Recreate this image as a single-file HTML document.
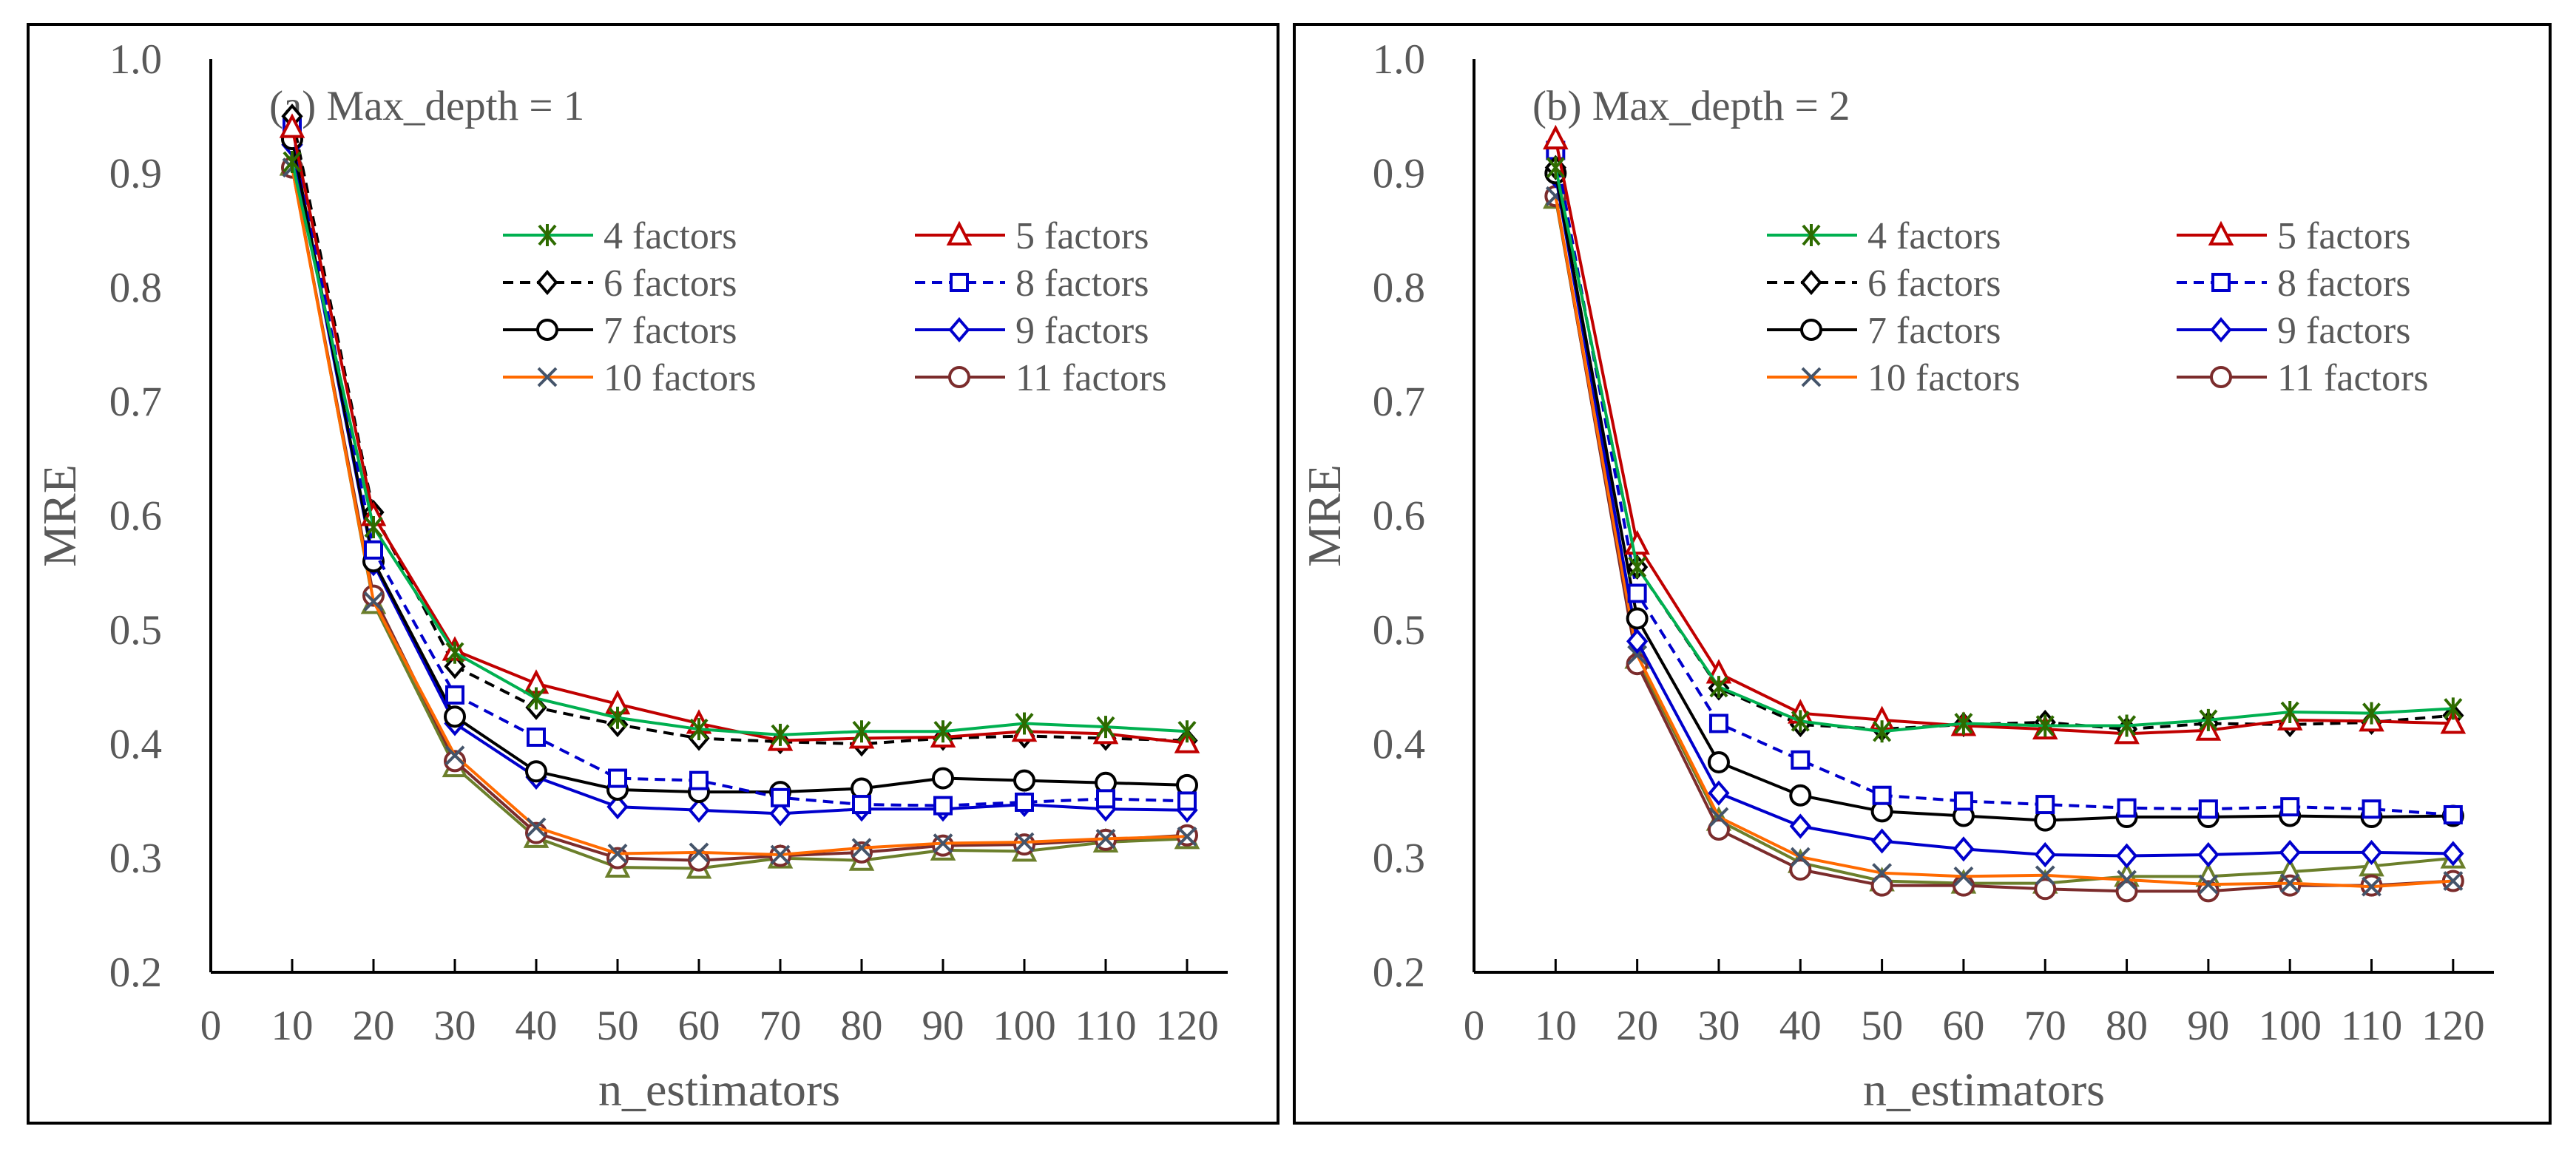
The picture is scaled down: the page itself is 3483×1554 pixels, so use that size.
<!DOCTYPE html>
<html><head><meta charset="utf-8"><style>
html,body{margin:0;padding:0;background:#fff}
svg{display:block;font-family:"Liberation Serif",serif}
</style></head><body>
<svg id="chart" width="3483" height="1554" viewBox="0 0 3483 1554" xmlns="http://www.w3.org/2000/svg"></svg>
<script>
const xValues=[10,20,30,40,50,60,70,80,90,100,110,120];
const xTicks=[0,10,20,30,40,50,60,70,80,90,100,110,120];
const yTicks=[0.2,0.3,0.4,0.5,0.6,0.7,0.8,0.9,1.0];
const seriesNames=["4 factors","5 factors","6 factors","8 factors","7 factors","9 factors","10 factors","11 factors",""];
const a4=[0.91,0.59,0.48,0.44,0.423,0.413,0.408,0.411,0.411,0.418,0.415,0.411];
const a5=[0.94,0.60,0.482,0.453,0.435,0.418,0.403,0.405,0.406,0.411,0.409,0.401];
const a6=[0.95,0.603,0.468,0.432,0.417,0.405,0.402,0.400,0.405,0.407,0.405,0.403];
const a8=[0.94,0.57,0.443,0.406,0.37,0.368,0.353,0.347,0.346,0.349,0.352,0.350];
const a7=[0.93,0.56,0.424,0.376,0.36,0.358,0.358,0.361,0.37,0.368,0.366,0.364];
const a9=[0.925,0.558,0.418,0.371,0.345,0.342,0.339,0.343,0.343,0.347,0.343,0.342];
const a10=[0.905,0.525,0.39,0.327,0.304,0.305,0.303,0.309,0.313,0.314,0.317,0.319];
const a11=[0.905,0.53,0.385,0.322,0.30,0.298,0.302,0.305,0.311,0.312,0.316,0.320];
const a12=[0.907,0.523,0.38,0.318,0.292,0.291,0.300,0.298,0.307,0.306,0.314,0.317];
const b4=[0.905,0.555,0.45,0.42,0.411,0.418,0.416,0.416,0.421,0.428,0.427,0.431];
const b5=[0.93,0.575,0.462,0.427,0.421,0.416,0.413,0.409,0.412,0.421,0.420,0.418];
const b6=[0.905,0.555,0.449,0.417,0.413,0.417,0.419,0.413,0.418,0.417,0.419,0.425];
const b8=[0.92,0.532,0.418,0.386,0.355,0.350,0.347,0.344,0.343,0.345,0.343,0.338];
const b7=[0.90,0.51,0.384,0.355,0.341,0.337,0.333,0.336,0.336,0.337,0.336,0.337];
const b9=[0.898,0.49,0.357,0.328,0.315,0.308,0.303,0.302,0.303,0.305,0.305,0.304];
const b10=[0.88,0.478,0.336,0.301,0.287,0.284,0.285,0.281,0.277,0.278,0.275,0.280];
const b11=[0.88,0.47,0.325,0.29,0.276,0.276,0.273,0.271,0.271,0.276,0.276,0.280];
const b12=[0.878,0.475,0.333,0.296,0.280,0.278,0.278,0.284,0.284,0.288,0.293,0.300];

const styles=[
 {line:"#00B050",mk:"#2E6B00",m:"star",dash:""},
 {line:"#C00000",mk:"#C00000",m:"tri",dash:""},
 {line:"#000",mk:"#000",m:"dia",dash:"14,9"},
 {line:"#0000CC",mk:"#0000CC",m:"sq",dash:"14,9"},
 {line:"#000",mk:"#000",m:"circ",dash:""},
 {line:"#0000CC",mk:"#0000CC",m:"dia",dash:""},
 {line:"#FF6A00",mk:"#44546A",m:"x",dash:""},
 {line:"#7B2C2C",mk:"#7B2C2C",m:"circ",dash:""},
 {line:"#6B7F2B",mk:"#6B7F2B",m:"tri",dash:""}
];
const NS="http://www.w3.org/2000/svg";
const svg=document.getElementById('chart');
function el(tag,attrs,parent,text){const e=document.createElementNS(NS,tag);for(const k in attrs)e.setAttribute(k,attrs[k]);if(text!==undefined)e.textContent=text;(parent||svg).appendChild(e);return e;}
function marker(g,type,x,y,c){
 let e;
 if(type==="circ")e=el('circle',{cx:x,cy:y,r:13,fill:'#fff',stroke:c,'stroke-width':4},g);
 else if(type==="sq")e=el('rect',{x:x-11,y:y-11,width:22,height:22,fill:'#fff',stroke:c,'stroke-width':4},g);
 else if(type==="dia")e=el('polygon',{points:`${x},${y-14} ${x+12},${y} ${x},${y+14} ${x-12},${y}`,fill:'#fff',stroke:c,'stroke-width':4},g);
 else if(type==="tri")e=el('polygon',{points:`${x},${y-15} ${x+14},${y+12} ${x-14},${y+12}`,fill:'#fff',stroke:c,'stroke-width':4},g);
 else if(type==="x")e=el('path',{d:`M${x-12},${y-12}L${x+12},${y+12}M${x+12},${y-12}L${x-12},${y+12}`,stroke:c,'stroke-width':4,fill:'none'},g);
 else e=el('path',{d:`M${x-11},${y-13}L${x+11},${y+13}M${x+11},${y-13}L${x-11},${y+13}M${x},${y-15}L${x},${y+15}`,stroke:c,'stroke-width':4,fill:'none'},g);
 
 
}
function panel(id,frame,ax,title,data,leg){
 const g=el('g',{});
 
 
 const fr=el('rect',{x:frame[0],y:frame[1],width:frame[2],height:frame[3],fill:'none',stroke:'#000','stroke-width':4},g);
 
 const X=v=>ax.x0+(v/125)*(ax.x1-ax.x0);
 const Y=v=>ax.yb-(v-0.2)/0.8*(ax.yb-ax.yt);
 const ya=el('line',{x1:ax.x0,y1:ax.yt,x2:ax.x0,y2:ax.yb,stroke:'#000','stroke-width':4},g);
 
 const xa=el('line',{x1:ax.x0,y1:ax.yb,x2:ax.x1,y2:ax.yb,stroke:'#000','stroke-width':4},g);
 
 yTicks.forEach(t=>{const e=el('text',{x:ax.x0-66,y:Y(t)+19,'text-anchor':'end','font-size':57,fill:'#595959'},g,t.toFixed(1));
  });
 xTicks.forEach(t=>{const e=el('text',{x:X(t),y:ax.yb+91,'text-anchor':'middle','font-size':57,fill:'#595959'},g,String(t));
  
  if(t>0){const tk=el('line',{x1:X(t),y1:ax.yb,x2:X(t),y2:ax.yb-18,stroke:'#000','stroke-width':3},g);}});
 const xt=el('text',{x:(ax.x0+ax.x1)/2,y:ax.yb+180,'text-anchor':'middle','font-size':64,fill:'#595959'},g,'n_estimators');
 
 const yt=el('text',{x:0,y:0,'text-anchor':'middle','font-size':64,fill:'#595959',transform:`translate(${ax.ytx},${(ax.yt+ax.yb)/2}) rotate(-90)`},g,'MRE');
 
 const ti=el('text',{x:ax.tx,y:162,'font-size':57,fill:'#595959'},g,title);
 
 const order=[8,7,6,5,4,3,2,1,0];
 order.forEach(i=>{const s=styles[i],d=data[i];
  const sg=el('g',{},g);
  
  
  const p=el('polyline',{points:d.map((v,j)=>X(xValues[j])+','+Y(v)).join(' '),fill:'none',stroke:s.line,'stroke-width':4,'stroke-dasharray':s.dash},sg);
  
  d.forEach((v,j)=>marker(sg,s.m,X(xValues[j]),Y(v),s.mk));
 });
 const lg=el('g',{},g);
 
 const rows=[318,382,446,510];
 for(let i=0;i<8;i++){const s=styles[i];const col=i%2,row=Math.floor(i/2);
  const lx=leg[col],y=rows[row];
  const eg=el('g',{},lg);
  
  el('line',{x1:lx,y1:y,x2:lx+122,y2:y,stroke:s.line,'stroke-width':4,'stroke-dasharray':s.dash},eg);
  marker(eg,s.m,lx+60,y,s.mk);
  el('text',{x:lx+136,y:y+18,'font-size':52,fill:'#595959'},eg,seriesNames[i]);
 }
}
panel('panel-a',[38,33,1690,1486],{x0:285,x1:1660,yt:80,yb:1315,ytx:102,tx:364},'(a) Max_depth = 1',[a4,a5,a6,a8,a7,a9,a10,a11,a12],[680,1237]);
panel('panel-b',[1750,33,1698,1486],{x0:1993,x1:3372,yt:80,yb:1315,ytx:1812,tx:2072},'(b) Max_depth = 2',[b4,b5,b6,b8,b7,b9,b10,b11,b12],[2389,2943]);
</script>
</body></html>
